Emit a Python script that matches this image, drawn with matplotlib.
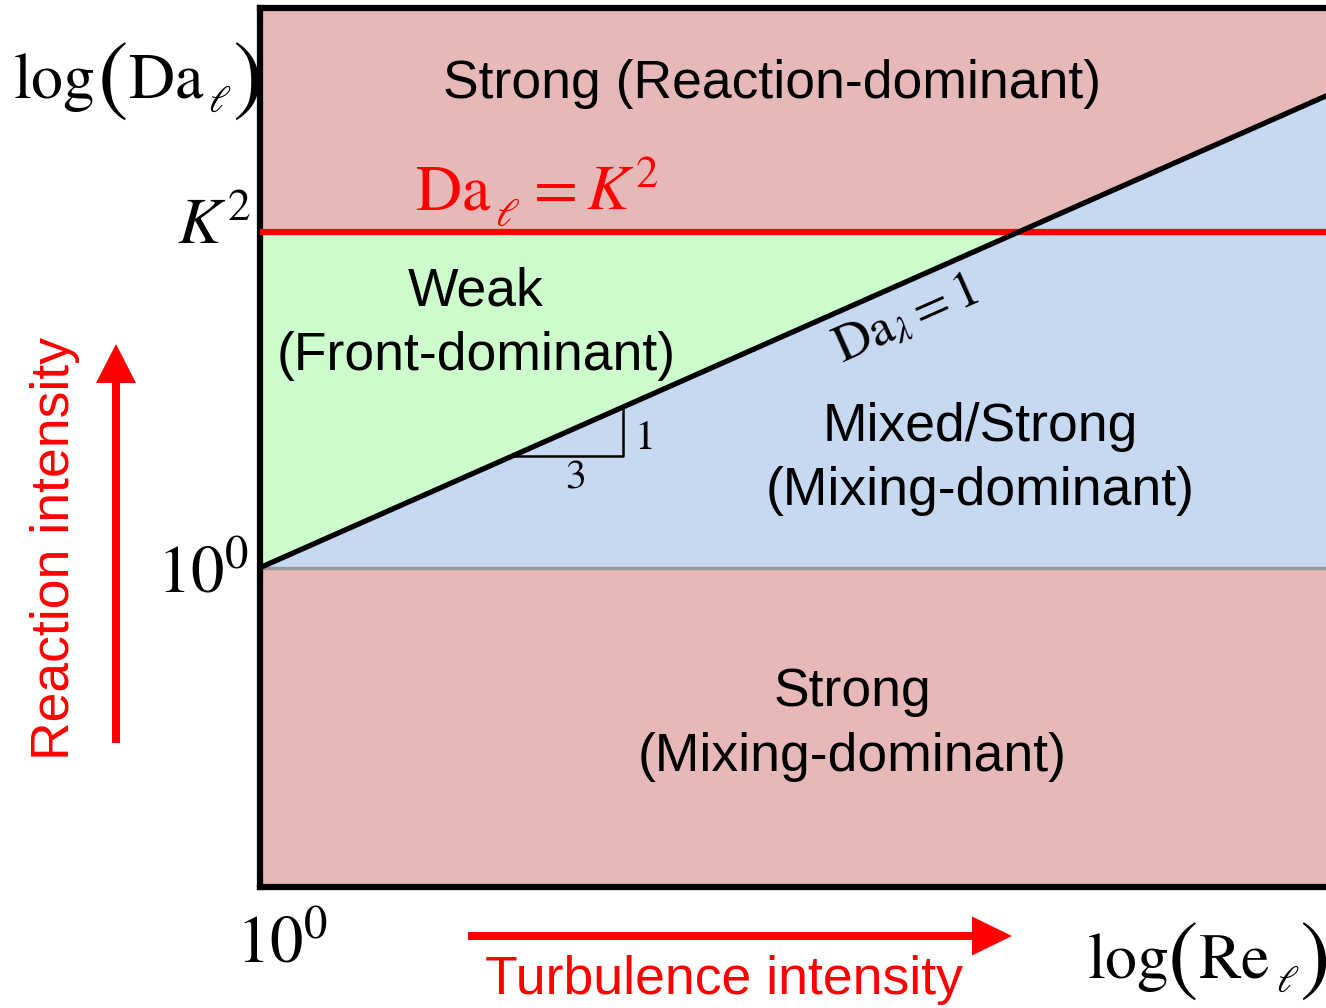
import numpy as np
import matplotlib.pyplot as plt
from matplotlib.patches import FancyArrow

plt.rcParams['mathtext.fontset'] = 'stix'
SANS = 'Liberation Sans'

# regime map in log space (log Re_l on x, log Da_l on y)
x_pts = np.array([0.0, 6.0, 8.42])   # origin, crossing of Da_lambda=1 with K^2, right edge
k2_level = 2.0                       # log K^2
slope = 1 / 3                        # Da_lambda = 1 line
y_low, y_high = -1.90, 3.33
tri_x0, tri_dx = 2.0, 0.87           # slope triangle

pink, green, blue = '#E6B8B7', '#CCFCCC', '#C6D9F0'

fig = plt.figure(figsize=(13.26, 10.08), dpi=100)
ax = fig.add_axes([260 / 1326, 121 / 1008, 1066 / 1326, 879 / 1008])

diag = x_pts * slope
ax.fill_between(x_pts, y_low, 0, color=pink, lw=0)
ax.fill_between(x_pts, 0, diag, color=blue, lw=0)
ax.fill_between(x_pts[:2], diag[:2], k2_level, color=green, lw=0)
ax.fill_between(x_pts, np.maximum(k2_level, diag), y_high, color=pink, lw=0)

ax.axhline(0, color='#9a9a9a', lw=2.5, zorder=2)
ax.plot(x_pts, diag, color='black', lw=3.8, zorder=4)
ax.axhline(k2_level, color='#FF0000', lw=4.5, zorder=3)

# slope triangle 3:1
tx = [tri_x0, tri_x0 + tri_dx, tri_x0 + tri_dx]
ty = [tri_x0 * slope, tri_x0 * slope, (tri_x0 + tri_dx) * slope]
ax.plot(tx, ty, color='black', lw=1.8, zorder=4)

ax.set_xlim(x_pts[0], x_pts[-1])
ax.set_ylim(y_low, y_high)
ax.set_xticks([])
ax.set_yticks([])
for s in ['left', 'top', 'bottom']:
    ax.spines[s].set_linewidth(4.5)
ax.spines['right'].set_visible(False)

# overlay in pixel coords for labels
ov = fig.add_axes([0, 0, 1, 1], zorder=5)
ov.set_xlim(0, 1326)
ov.set_ylim(1008, 0)
ov.axis('off')

lab = dict(ha='center', va='center', fontsize=38.5, family=SANS, color='black')
ov.text(772, 84, 'Strong (Reaction-dominant)', **lab)
ov.text(476, 292, 'Weak', **lab)
ov.text(476, 356, '(Front-dominant)', **lab)
ov.text(980, 427, 'Mixed/Strong', **lab)
ov.text(980, 491, '(Mixing-dominant)', **lab)
ov.text(852, 692, 'Strong', **lab)
ov.text(852, 757, '(Mixing-dominant)', **lab)


def log_label(x_log, x_par1, x_name, name, x_sub, x_par2, base, pc):
    ov.text(x_log, base, r'$\mathrm{log}$', ha='left', va='baseline', fontsize=46)
    ov.text(x_par1, pc, r'$($', ha='center', va='center', fontsize=66)
    ov.text(x_name, base, r'$\mathrm{%s}$' % name, ha='left', va='baseline', fontsize=46)
    ov.text(x_sub, base + 14, r'$\ell$', ha='left', va='baseline', fontsize=27)
    ov.text(x_par2, pc, r'$)$', ha='center', va='center', fontsize=66)


log_label(13, 112, 128, 'Da', 208, 246, 98, 78)
log_label(1087, 1182, 1198, 'Re', 1276, 1313, 978, 958)

ov.text(415, 210, r'$\mathrm{Da}$', ha='left', va='baseline', fontsize=46, color='#FF0000')
ov.text(495, 226, r'$\ell$', ha='left', va='baseline', fontsize=29, color='#FF0000')
ov.text(524, 210, r'$= K^{2}$', ha='left', va='baseline', fontsize=46, color='#FF0000')

ov.text(214, 226, r'$K^{2}$', ha='center', va='center', fontsize=47)
ov.text(203, 573, r'$10^{0}$', ha='center', va='center', fontsize=48)
ov.text(282, 943, r'$10^{0}$', ha='center', va='center', fontsize=48)
ov.text(906, 320, r'$\mathrm{Da}_{\lambda} = 1$', ha='center', va='center',
        fontsize=37, rotation=24)
ov.text(575, 476, r'$3$', ha='center', va='center', fontsize=30)
ov.text(643, 437, r'$1$', ha='center', va='center', fontsize=30)

ov.text(55, 548, 'Reaction intensity', ha='center', va='center', rotation=90,
        fontsize=38.5, family=SANS, color='#FF0000')
ov.text(724, 980, 'Turbulence intensity', ha='center', va='center',
        fontsize=38.5, family=SANS, color='#FF0000')

ov.add_patch(FancyArrow(116, 743, 0, -399, width=8, head_width=40, head_length=39,
                        length_includes_head=True, color='#FF0000', lw=0))
ov.add_patch(FancyArrow(468, 936, 544, 0, width=8, head_width=39, head_length=40,
                        length_includes_head=True, color='#FF0000', lw=0))

fig.savefig('out.png', dpi=100)
